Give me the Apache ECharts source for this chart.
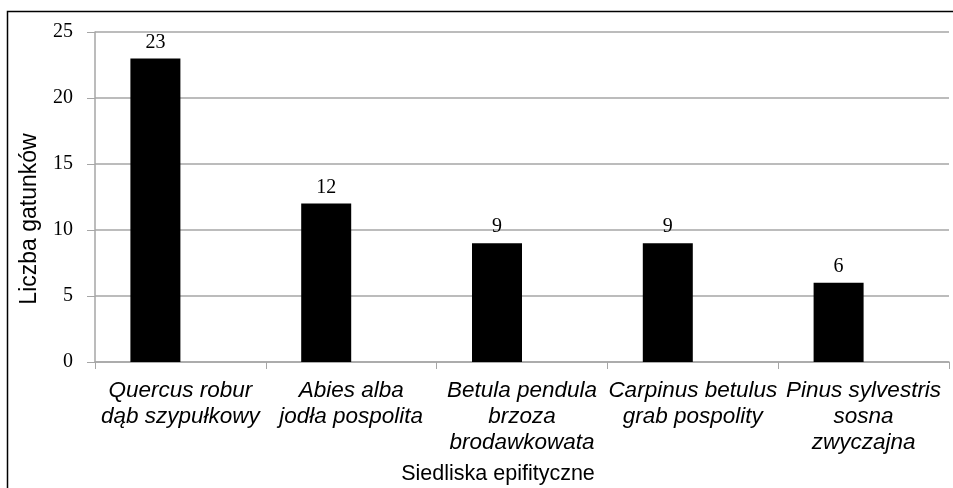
<!DOCTYPE html>
<html>
<head>
<meta charset="utf-8">
<script src="https://cdn.jsdelivr.net/npm/echarts@6/dist/echarts.min.js"></script>
<style>
  html, body { margin: 0; padding: 0; background: #fff; }
  #chart { width: 953px; height: 488px; }
</style>
</head>
<body>
<div id="chart"></div>
<script>
// habitats (species + polish name) and number of species
var habitats = [
  'Quercus robur\ndąb szypułkowy',
  'Abies alba\njodła pospolita',
  'Betula pendula\nbrzoza\nbrodawkowata',
  'Carpinus betulus\ngrab pospolity',
  'Pinus sylvestris\nsosna\nzwyczajna'
];
var speciesCount = [23, 12, 9, 9, 6];

var chart = echarts.init(document.getElementById('chart'));
var grey = '#a6a6a6';

chart.setOption({
  backgroundColor: '#fff',
  animation: false,
  graphic: [{
    type: 'rect',
    shape: { x: 7.5, y: 11.5, width: 980, height: 520 },
    style: { fill: null, stroke: '#000', lineWidth: 1.5 }
  }],
  grid: { left: 95, right: 4, top: 32, bottom: 126, outerBoundsMode: 'none' },
  xAxis: {
    type: 'category',
    data: habitats,
    name: 'Siedliska epifityczne',
    nameLocation: 'middle',
    nameGap: 101,
    nameTextStyle: {
      fontFamily: 'Liberation Sans', fontSize: 21.5, color: '#000',
      padding: [0, 48, 0, 0]
    },
    axisLine: { lineStyle: { color: grey, width: 1.5 } },
    axisTick: { show: true, length: 7, lineStyle: { color: grey } },
    axisLabel: {
      fontFamily: 'Liberation Sans', fontStyle: 'italic', fontSize: 22.5,
      lineHeight: 26, color: '#000', margin: 16, interval: 0
    }
  },
  yAxis: {
    type: 'value',
    min: 0, max: 25, interval: 5,
    name: 'Liczba gatunków',
    nameLocation: 'middle',
    nameGap: 54,
    nameRotate: 90,
    nameTextStyle: {
      fontFamily: 'Liberation Sans', fontSize: 23, color: '#000',
      padding: [0, 44, 0, 0]
    },
    axisLine: { show: true, lineStyle: { color: grey, width: 1.5 } },
    axisTick: { show: true, length: 8, lineStyle: { color: grey } },
    axisLabel: {
      fontFamily: 'Liberation Serif', fontSize: 20, color: '#000', margin: 22
    },
    splitLine: { lineStyle: { color: grey, width: 1.5 } }
  },
  series: [{
    type: 'bar',
    data: speciesCount,
    barWidth: 50,
    barGap: '0%',
    itemStyle: { color: '#000' },
    label: {
      show: true, position: 'top', distance: 6,
      fontFamily: 'Liberation Serif', fontSize: 20, color: '#000'
    }
  }, {
    // empty companion series: keeps the bars left of the category centre
    type: 'bar',
    data: [],
    barWidth: 50
  }]
});
</script>
</body>
</html>
